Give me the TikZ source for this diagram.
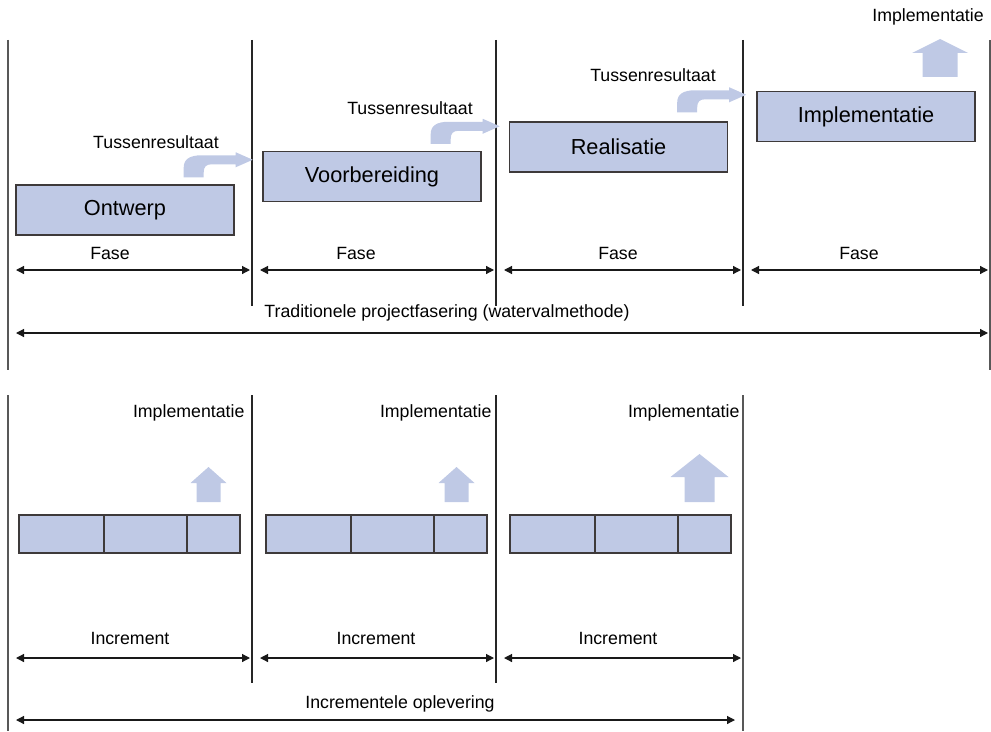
\documentclass[tikz,border=0pt]{standalone}
\usepackage{fontspec}
\setmainfont{Liberation Sans}
\usepackage{xcolor}
\usetikzlibrary{arrows.meta, positioning, calc}
\definecolor{blokvul}{RGB}{191,201,229}
\definecolor{rand}{RGB}{62,58,58}
\definecolor{buiten}{RGB}{88,88,88}
\tikzset{
  fase/.style={rectangle, draw=rand, line width=1.1pt, fill=blokvul, inner sep=0pt,
               minimum width=163.5pt, minimum height=37.5pt, font=\fontsize{16.3}{19}\selectfont},
  seg/.style={rectangle, draw=rand, line width=1.1pt, fill=blokvul, inner sep=0pt,
              outer sep=0pt, minimum height=28.5pt},
  lbl/.style={font=\fontsize{13.3}{16}\selectfont, inner sep=1pt},
  maat/.style={{Triangle[length=6pt,width=6pt]}-{Triangle[length=6pt,width=6pt]}, line width=0.9pt, draw=black!90},
  grens/.style={line width=1.9pt, draw=buiten},
  lijn/.style={line width=0.9pt, draw=black!85},
  tussen/.pic={\fill[blokvul] (0,0) -- (0,-10) .. controls (0,-18) and (6,-22) .. (18,-22)
               -- (52,-22) -- (52,-25) -- (69,-17.5) -- (52,-10) -- (52,-13) -- (28,-13)
               .. controls (22,-13) and (20,-10) .. (20,-5) -- (20,0) -- cycle;},
  pijlklein/.pic={\fill[blokvul] (-12,0) -- (-12,-19) -- (-18,-19) -- (0,-35) -- (18,-19) -- (12,-19) -- (12,0) -- cycle;},
  pijlgroot/.pic={\fill[blokvul] (-15,0) -- (-15,-25) -- (-29,-25) -- (0,-48) -- (29,-25) -- (15,-25) -- (15,0) -- cycle;},
  pijltop/.pic={\fill[blokvul] (-17.5,0) -- (-17.5,-24) -- (-28,-24) -- (0,-38) -- (28,-24) -- (17.5,-24) -- (17.5,0) -- cycle;},
}
\newcommand{\maatpijl}[3]{\draw[maat] ($(#1 |- 0,#3)+(8,0)$) -- ($(#2 |- 0,#3)+(-2,0)$);}

\begin{document}
\begin{tikzpicture}[x=0.75pt, y=-0.75pt]
\useasboundingbox (0,0) rectangle (991,731);

% Grenzen watervalmethode
\foreach \i/\x in {1/8,2/252,3/496,4/743,5/990} \coordinate (t\i) at (\x,40);
\draw[grens] (t1) -- (t1 |- 0,370);
\draw[grens] (t5) -- (t5 |- 0,370);
\foreach \i in {2,3,4} \draw[lijn] (t\i) -- (t\i |- 0,306);

% Fasen
\node[fase] (ontwerp) at (125,210) {Ontwerp};
\node[fase] (voorb) at (372,176.5) {Voorbereiding};
\node[fase] (real) at (618.5,147) {Realisatie};
\node[fase] (impl) at (866,116.5) {Implementatie};

% Tussenresultaten
\pic at ($(ontwerp.north east)+(-51,-7)$) {tussen};
\pic at ($(voorb.north east)+(-51,-7)$) {tussen};
\pic at ($(real.north east)+(-51,-9)$) {tussen};
\node[lbl] (tr1) at (156,142) {Tussenresultaat};
\node[lbl] (tr2) at (410,108) {Tussenresultaat};
\node[lbl] (tr3) at (653,75) {Tussenresultaat};

% Implementatie na laatste fase
\pic at (940,77) {pijltop};
\node[lbl] (imptop) at (928,17) {Implementatie};

% Maatpijlen fasen
\maatpijl{t1}{t2}{270}
\maatpijl{t2}{t3}{270}
\maatpijl{t3}{t4}{270}
\maatpijl{t4}{t5}{270}
\node[lbl] (f1) at (110,253) {Fase};
\node[lbl] (f2) at (356,253) {Fase};
\node[lbl] (f3) at (618,253) {Fase};
\node[lbl] (f4) at (859,253) {Fase};
\maatpijl{t1}{t5}{333}
\node[lbl] (trad) at (447,313) {Traditionele projectfasering (watervalmethode)};

% Grenzen incrementen
\foreach \i/\x in {1/8,2/252,3/496,4/743} \coordinate (o\i) at (\x,395);
\draw[grens] (o1) -- (o1 |- 0,731);
\draw[grens] (o4) -- (o4 |- 0,731);
\foreach \i in {2,3} \draw[lijn] (o\i) -- (o\i |- 0,683);

% Incrementen
\foreach \i/\x in {1/19,2/266,3/510} {
  \node[seg, minimum width=63.75pt, anchor=north west] (b\i1) at (\x,515) {};
  \node[seg, minimum width=62.25pt, right=0pt of b\i1] (b\i2) {};
  \node[seg, minimum width=39.75pt, right=0pt of b\i2] (b\i3) {};
}
\pic at ($(b13.north)+(-5,-13)$) {pijlklein};
\pic at ($(b23.north)+(-4,-13)$) {pijlklein};
\pic at ($(b33.north)+(-5,-13)$) {pijlgroot};
\node[lbl, anchor=east] (imp1) at (246,413) {Implementatie};
\node[lbl, anchor=east] (imp2) at (493,413) {Implementatie};
\node[lbl, anchor=east] (imp3) at (741,413) {Implementatie};

% Maatpijlen incrementen
\maatpijl{o1}{o2}{658}
\maatpijl{o2}{o3}{658}
\maatpijl{o3}{o4}{658}
\node[lbl] (i1) at (130,638) {Increment};
\node[lbl] (i2) at (376,638) {Increment};
\node[lbl] (i3) at (618,638) {Increment};
\draw[maat] ($(o1 |- 0,720)+(8,0)$) -- ($(o4 |- 0,720)+(-8,0)$);
\node[lbl] (opl) at (400,704) {Incrementele oplevering};

\end{tikzpicture}
\end{document}
